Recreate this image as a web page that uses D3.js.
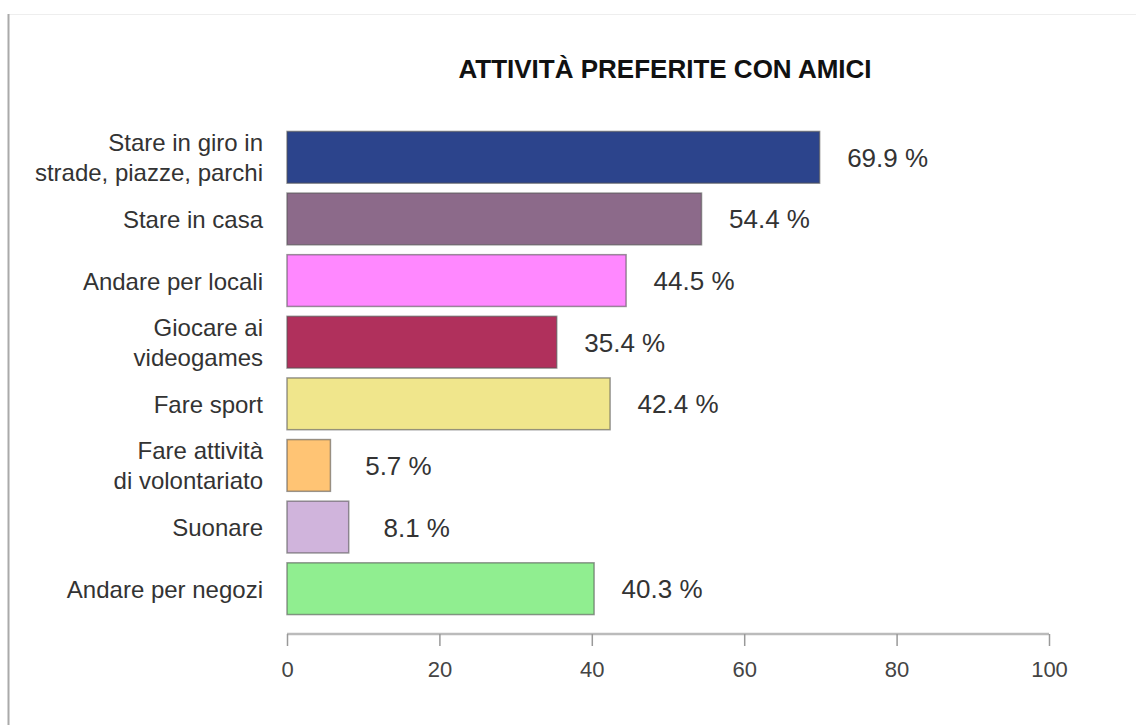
<!DOCTYPE html>
<html><head><meta charset="utf-8">
<script src="https://cdn.jsdelivr.net/npm/d3@7"></script>
<style>
html,body{margin:0;padding:0;background:#fff;}
svg{display:block;font-family:"Liberation Sans",Arial,Helvetica,sans-serif;}
</style></head>
<body>
<svg id="chart" width="1136" height="725"></svg>
<script>
const title = "ATTIVITÀ PREFERITE CON AMICI";
const categories = [
  ["Stare in giro in", "strade, piazze, parchi"],
  ["Stare in casa"],
  ["Andare per locali"],
  ["Giocare ai", "videogames"],
  ["Fare sport"],
  ["Fare attività", "di volontariato"],
  ["Suonare"],
  ["Andare per negozi"]
];
const values = [69.9, 54.4, 44.5, 35.4, 42.4, 5.7, 8.1, 40.3];
const colors = ["#2C448C", "#8C6A8A", "#FF88FF", "#B0305C", "#F0E68C", "#FFC474", "#D0B4DC", "#90EE90"];
const ticks = [0, 20, 40, 60, 80, 100];

const svg = d3.select("#chart");

// frame lines
svg.append("line").attr("x1", 8).attr("x2", 1136).attr("y1", 14.5).attr("y2", 14.5)
  .attr("stroke", "#eee").attr("stroke-width", 1);
svg.append("line").attr("x1", 8.5).attr("x2", 8.5).attr("y1", 14).attr("y2", 725)
  .attr("stroke", "#aaa").attr("stroke-width", 2);

const x = d3.scaleLinear().domain([0, 100]).range([287, 1049]);
const idx = d3.range(values.length);
const y = d3.scaleBand().domain(idx).range([126.5, 619.5]).paddingInner(0.16).paddingOuter(0.08);

svg.append("text").attr("x", 665).attr("y", 78).attr("text-anchor", "middle")
  .attr("font-size", 26).attr("font-weight", "bold").attr("fill", "#111")
  .text(title);

const g = svg.append("g");
g.selectAll("rect").data(idx).join("rect")
  .attr("x", x(0)).attr("y", i => y(i))
  .attr("width", i => x(values[i]) - x(0)).attr("height", y.bandwidth())
  .attr("fill", i => colors[i]).attr("stroke", "#555").attr("stroke-opacity", 0.6).attr("stroke-width", 1.5);

// value labels
g.selectAll("text.val").data(idx).join("text").attr("class", "val")
  .attr("x", i => x(values[i]) + 68).attr("y", i => y(i) + y.bandwidth() / 2 + 9.5)
  .attr("text-anchor", "middle").attr("font-size", 26).attr("fill", "#333")
  .text(i => values[i].toFixed(1) + " %");

// category labels
idx.forEach(i => {
  const lines = categories[i];
  const cy = y(i) + y.bandwidth() / 2;
  const n = lines.length;
  lines.forEach((ln, k) => {
    svg.append("text").attr("x", 263).attr("y", cy + 9 + (k - (n - 1) / 2) * 30)
      .attr("text-anchor", "end").attr("font-size", 24).attr("fill", "#333").text(ln);
  });
});

// axis
const axis = d3.axisBottom(x).tickValues(ticks).tickSize(12).tickPadding(0).tickFormat(d3.format("d"));
const ax = svg.append("g").attr("transform", "translate(0,634)").call(axis);
ax.select(".domain").attr("stroke", "#bbb").attr("stroke-width", 2.5).attr("d", `M${x(0)},0H${x(100)}`);
ax.selectAll(".tick line").attr("stroke", "#999").attr("stroke-width", 1.5);
ax.selectAll(".tick text").attr("font-size", 22).attr("fill", "#444")
  .attr("font-family", "'Liberation Sans',Arial,sans-serif")
  .attr("y", 43).attr("dy", 0);
</script>
</body></html>
